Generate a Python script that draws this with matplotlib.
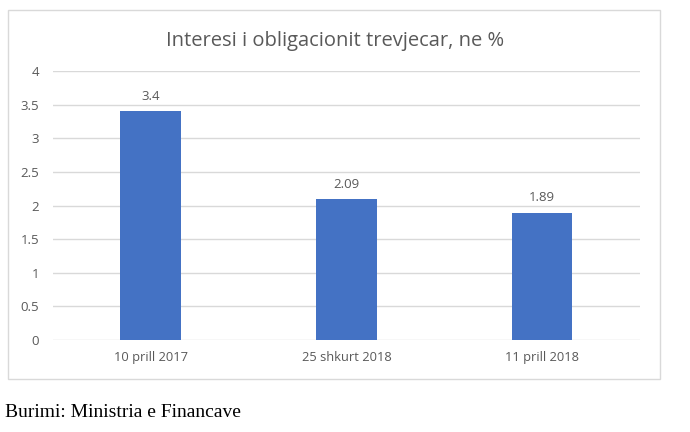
import matplotlib.pyplot as plt
from matplotlib.patches import Rectangle

dates = ["10 prill 2017", "25 shkurt 2018", "11 prill 2018"]
rates = [3.4, 2.09, 1.89]
rate_labels = ["3.4", "2.09", "1.89"]
yticks = [0, 0.5, 1, 1.5, 2, 2.5, 3, 3.5, 4]
ytick_labels = ["0", "0.5", "1", "1.5", "2", "2.5", "3", "3.5", "4"]

gray = "#595959"

fig = plt.figure(figsize=(6.9, 4.32), dpi=100)
ax = fig.add_axes([0.0768, 0.213, 0.8507, 0.6226])

# chart border box
fig.patches.append(Rectangle((0.0116, 0.1227), 0.945, 0.854, transform=fig.transFigure,
                             fill=False, edgecolor="#D9D9D9", linewidth=1))

x = range(len(dates))
ax.bar(x, rates, width=0.31, color="#4472C4", zorder=3)
for i, v in enumerate(rates):
    ax.text(i, v + 0.13, rate_labels[i], ha="center", va="bottom",
            fontsize=9.5, color=gray, family="Open Sans")

ax.set_xlim(-0.5, 2.5)
ax.set_ylim(0, 4)
ax.set_yticks(yticks)
ax.set_yticklabels(ytick_labels, fontsize=9.5, color=gray, family="Open Sans")
ax.set_xticks(list(x))
ax.set_xticklabels(dates, fontsize=9.3, color=gray, family="Open Sans")
ax.tick_params(length=0, pad=10)
ax.tick_params(axis="x", pad=8)
ax.grid(axis="y", color="#D9D9D9", linewidth=1, zorder=0)
for s in ax.spines.values():
    s.set_visible(False)

fig.text(0.486, 0.905, "Interesi i obligacionit trevjecar, ne %", ha="center", va="center",
         fontsize=14.5, color=gray, family="Open Sans")
fig.text(0.007, 0.046, "Burimi: Ministria e Financave", ha="left", va="center",
         fontsize=14, color="black", family="Liberation Serif")

fig.savefig("out.png", dpi=100)
